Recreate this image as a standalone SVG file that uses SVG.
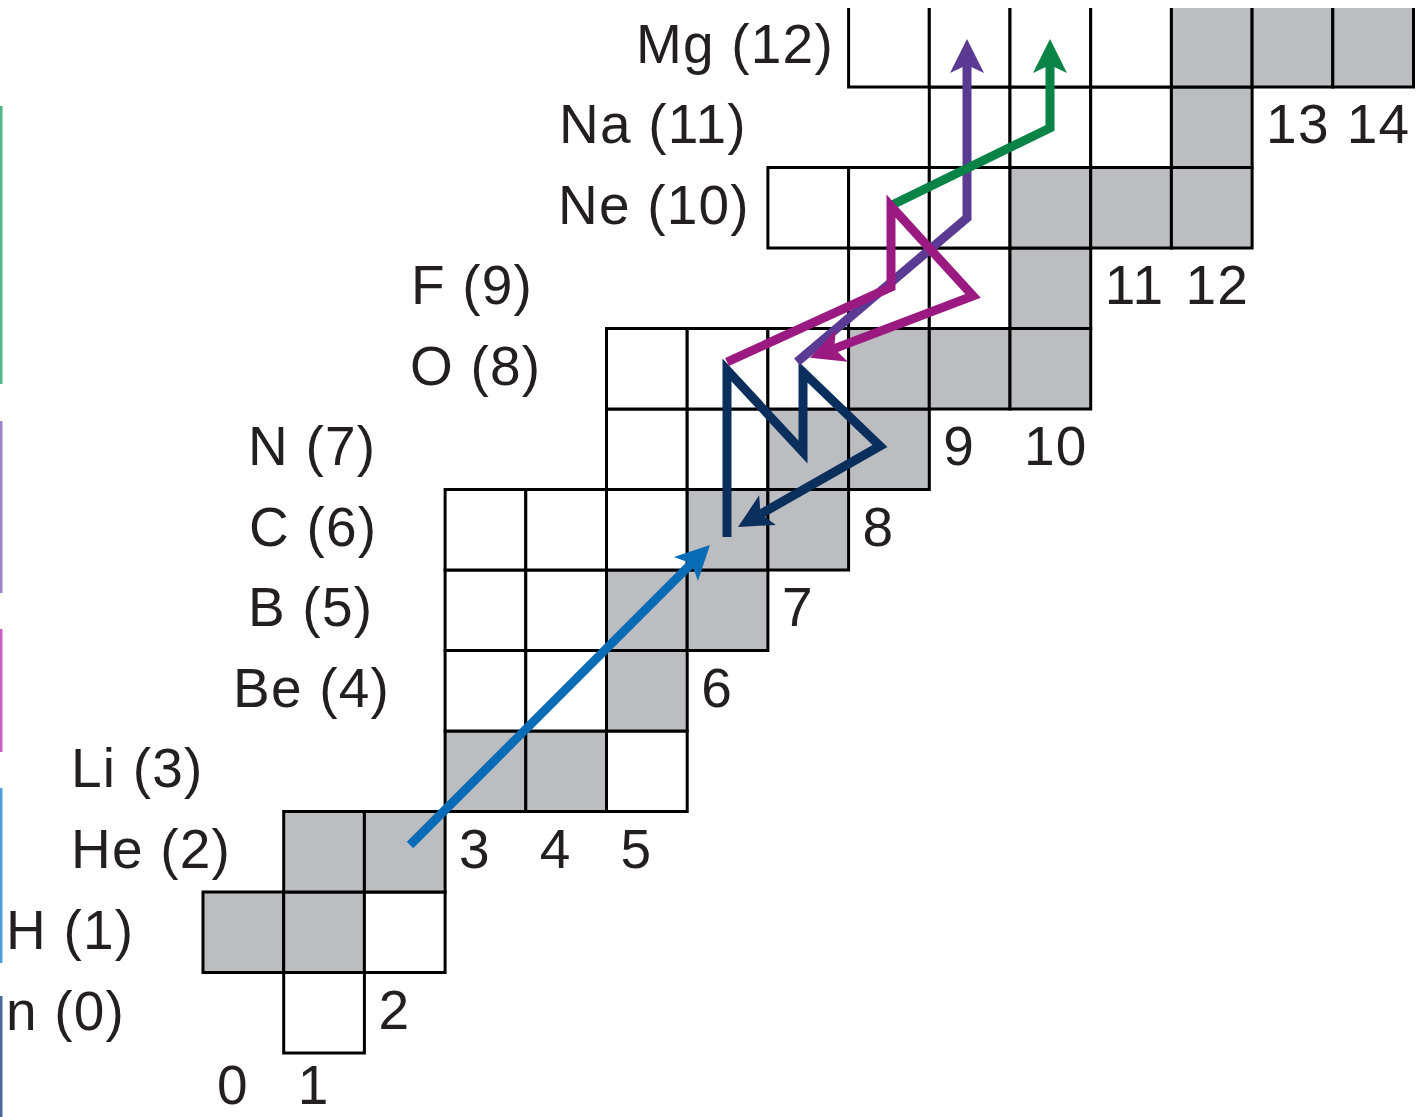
<svg xmlns="http://www.w3.org/2000/svg" width="1426" height="1117" viewBox="0 0 1426 1117">
<style>
.w{fill:#ffffff;stroke:#000000;stroke-width:3}
.g{fill:#bcbdc0;stroke:#000000;stroke-width:3}
.t{font-family:"Liberation Sans",Arial,Helvetica,sans-serif;font-size:55px;letter-spacing:1.2px;fill:#231f20}
.a{fill:none;stroke-width:9;stroke-linejoin:miter;stroke-miterlimit:4;stroke-linecap:butt}
</style>
<defs>
<clipPath id="topclip"><rect x="0" y="8" width="1426" height="1109"/></clipPath>
<marker id="hBlue" markerUnits="userSpaceOnUse" orient="auto" refX="0" refY="0" markerWidth="80" markerHeight="80" overflow="visible"><path d="M0,0 L-8,-17 L26,0 L-8,17 Z" fill="#0a6cb6"/></marker>
<marker id="hNavy" markerUnits="userSpaceOnUse" orient="auto" refX="0" refY="0" markerWidth="80" markerHeight="80" overflow="visible"><path d="M0,0 L-8,-17 L26,0 L-8,17 Z" fill="#0b2f5c"/></marker>
<marker id="hMag" markerUnits="userSpaceOnUse" orient="auto" refX="0" refY="0" markerWidth="80" markerHeight="80" overflow="visible"><path d="M0,0 L-8,-17 L26,0 L-8,17 Z" fill="#9a1a82"/></marker>
<marker id="hPur" markerUnits="userSpaceOnUse" orient="auto" refX="0" refY="0" markerWidth="80" markerHeight="80" overflow="visible"><path d="M0,0 L-8,-17 L26,0 L-8,17 Z" fill="#5a3a92"/></marker>
<marker id="hGrn" markerUnits="userSpaceOnUse" orient="auto" refX="0" refY="0" markerWidth="80" markerHeight="80" overflow="visible"><path d="M0,0 L-8,-17 L26,0 L-8,17 Z" fill="#0a8446"/></marker>
</defs>
<rect x="0" y="0" width="1426" height="1117" fill="#ffffff"/>

<g id="side-bars">
<rect x="0" y="106" width="2.5" height="278" fill="#52b788"/>
<rect x="0" y="421" width="2.5" height="172" fill="#9d85c8"/>
<rect x="0" y="629" width="2.5" height="123" fill="#cc5fbf"/>
<rect x="0" y="788" width="2.5" height="175" fill="#4d9fe0"/>
<rect x="0" y="996" width="2.5" height="121" fill="#4b6b9b"/>
</g>

<g id="row-n">
<rect class="w" x="283.7" y="972.5" width="80.7" height="80.5"/>
<text class="t" x="6" y="1030">n (0)</text>
</g>
<g id="row-H">
<rect class="g" x="203" y="892" width="80.7" height="80.5"/>
<rect class="g" x="283.7" y="892" width="80.7" height="80.5"/>
<rect class="w" x="364.4" y="892" width="80.7" height="80.5"/>
<text class="t" x="6" y="949">H (1)</text>
</g>
<g id="row-He">
<rect class="g" x="283.7" y="811.5" width="80.7" height="80.5"/>
<rect class="g" x="364.4" y="811.5" width="80.7" height="80.5"/>
<text class="t" x="71" y="868">He (2)</text>
</g>
<g id="row-Li">
<rect class="g" x="445.1" y="731" width="80.7" height="80.5"/>
<rect class="g" x="525.8" y="731" width="80.7" height="80.5"/>
<rect class="w" x="606.5" y="731" width="80.7" height="80.5"/>
<text class="t" x="71" y="787">Li (3)</text>
</g>
<g id="row-Be">
<rect class="w" x="445.1" y="650.5" width="80.7" height="80.5"/>
<rect class="w" x="525.8" y="650.5" width="80.7" height="80.5"/>
<rect class="g" x="606.5" y="650.5" width="80.7" height="80.5"/>
<text class="t" x="233" y="707">Be (4)</text>
</g>
<g id="row-B">
<rect class="w" x="445.1" y="570" width="80.7" height="80.5"/>
<rect class="w" x="525.8" y="570" width="80.7" height="80.5"/>
<rect class="g" x="606.5" y="570" width="80.7" height="80.5"/>
<rect class="g" x="687.2" y="570" width="80.7" height="80.5"/>
<text class="t" x="248" y="626">B (5)</text>
</g>
<g id="row-C">
<rect class="w" x="445.1" y="489.5" width="80.7" height="80.5"/>
<rect class="w" x="525.8" y="489.5" width="80.7" height="80.5"/>
<rect class="w" x="606.5" y="489.5" width="80.7" height="80.5"/>
<rect class="g" x="687.2" y="489.5" width="80.7" height="80.5"/>
<rect class="g" x="767.9" y="489.5" width="80.7" height="80.5"/>
<text class="t" x="249" y="546">C (6)</text>
</g>
<g id="row-N">
<rect class="w" x="606.5" y="409" width="80.7" height="80.5"/>
<rect class="w" x="687.2" y="409" width="80.7" height="80.5"/>
<rect class="g" x="767.9" y="409" width="80.7" height="80.5"/>
<rect class="g" x="848.6" y="409" width="80.7" height="80.5"/>
<text class="t" x="248" y="465">N (7)</text>
</g>
<g id="row-O">
<rect class="w" x="606.5" y="328.5" width="80.7" height="80.5"/>
<rect class="w" x="687.2" y="328.5" width="80.7" height="80.5"/>
<rect class="w" x="767.9" y="328.5" width="80.7" height="80.5"/>
<rect class="g" x="848.6" y="328.5" width="80.7" height="80.5"/>
<rect class="g" x="929.3" y="328.5" width="80.7" height="80.5"/>
<rect class="g" x="1010" y="328.5" width="80.7" height="80.5"/>
<text class="t" x="410" y="385">O (8)</text>
</g>
<g id="row-F">
<rect class="w" x="848.6" y="248" width="80.7" height="80.5"/>
<rect class="w" x="929.3" y="248" width="80.7" height="80.5"/>
<rect class="g" x="1010" y="248" width="80.7" height="80.5"/>
<text class="t" x="411" y="304">F (9)</text>
</g>
<g id="row-Ne">
<rect class="w" x="767.9" y="167.5" width="80.7" height="80.5"/>
<rect class="w" x="848.6" y="167.5" width="80.7" height="80.5"/>
<rect class="w" x="929.3" y="167.5" width="80.7" height="80.5"/>
<rect class="g" x="1010" y="167.5" width="80.7" height="80.5"/>
<rect class="g" x="1090.7" y="167.5" width="80.7" height="80.5"/>
<rect class="g" x="1171.4" y="167.5" width="80.7" height="80.5"/>
<text class="t" x="558" y="224">Ne (10)</text>
</g>
<g id="row-Na">
<rect class="w" x="929.3" y="87" width="80.7" height="80.5"/>
<rect class="w" x="1010" y="87" width="80.7" height="80.5"/>
<rect class="w" x="1090.7" y="87" width="80.7" height="80.5"/>
<rect class="g" x="1171.4" y="87" width="80.7" height="80.5"/>
<text class="t" x="559" y="143">Na (11)</text>
</g>
<g id="row-Mg">
<g clip-path="url(#topclip)">
<rect class="w" x="848.6" y="4" width="80.7" height="83"/>
<rect class="w" x="929.3" y="4" width="80.7" height="83"/>
<rect class="w" x="1010" y="4" width="80.7" height="83"/>
<rect class="w" x="1090.7" y="4" width="80.7" height="83"/>
<rect class="g" x="1171.4" y="4" width="80.7" height="83"/>
<rect class="g" x="1252.1" y="4" width="80.7" height="83"/>
<rect class="g" x="1332.8" y="4" width="80.7" height="83"/>
</g>
<text class="t" x="636" y="63">Mg (12)</text>
</g>

<g id="neutron-numbers">
<text class="t" x="217" y="1104">0</text>
<text class="t" x="297.7" y="1104">1</text>
<text class="t" x="378.4" y="1029">2</text>
<text class="t" x="459.1" y="868">3</text>
<text class="t" x="539.8" y="868">4</text>
<text class="t" x="620.5" y="868">5</text>
<text class="t" x="701.2" y="707">6</text>
<text class="t" x="781.9" y="626">7</text>
<text class="t" x="862.6" y="546">8</text>
<text class="t" x="943.3" y="465">9</text>
<text class="t" x="1024" y="465">10</text>
<text class="t" x="1104.7" y="304">11</text>
<text class="t" x="1185.4" y="304">12</text>
<text class="t" x="1266.1" y="143">13</text>
<text class="t" x="1346.8" y="143">14</text>
</g>

<g id="connectors">
<path class="a" stroke="#0a6cb6" d="M410,845 L691.6,563.4" marker-end="url(#hBlue)"/>
<path class="a" stroke="#0b2f5c" d="M727,537 L727,370 L803,452 L803,372 L880,446 L760.6,514.1" marker-end="url(#hNavy)"/>
<path class="a" stroke="#5a3a92" d="M797,362 L967,218 L967,65" marker-end="url(#hPur)"/>
<path class="a" stroke="#0a8446" d="M892,205 L1050,128 L1050,65" marker-end="url(#hGrn)"/>
<path class="a" stroke="#9a1a82" d="M727,362 L891,287 L891,206 L973,296 L834.3,348.6" marker-end="url(#hMag)"/>
</g>
</svg>
